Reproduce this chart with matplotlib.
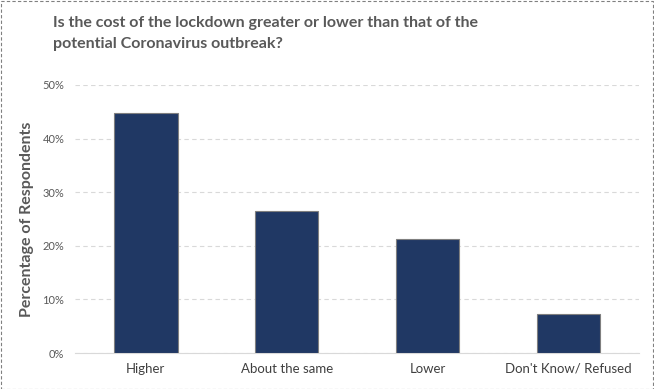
import matplotlib.pyplot as plt
from matplotlib.patches import Rectangle
from matplotlib.ticker import PercentFormatter

categories = ['Higher', 'About the same', 'Lower', "Don't Know/ Refused"]
values = [44.8, 26.5, 21.3, 7.3]
yticks = [0, 10, 20, 30, 40, 50]

plt.rcParams['font.family'] = ['Lato', 'DejaVu Sans']

fig = plt.figure(figsize=(6.54, 3.89), dpi=100)
ax = fig.add_axes([0.1154, 0.0925, 0.861, 0.689])

ax.bar(range(len(categories)), values, width=0.45, color='#203864',
       edgecolor='#7f7f7f', linewidth=0.8, zorder=3)

ax.set_xlim(-0.5, len(categories) - 0.5)
ax.set_ylim(0, 50)
ax.set_yticks(yticks)
ax.yaxis.set_major_formatter(PercentFormatter(decimals=0))
ax.set_xticks(range(len(categories)))
ax.set_xticklabels(categories, fontsize=9.5, color='#404040')
ax.tick_params(axis='y', labelsize=8, colors='#595959', length=0, pad=8)
ax.tick_params(axis='x', length=0, pad=7)

ax.grid(axis='y', color='#d9d9d9', linestyle=(0, (4, 3)), linewidth=0.8, zorder=0)
for s in ['top', 'right', 'left']:
    ax.spines[s].set_visible(False)
ax.spines['bottom'].set_color('#d9d9d9')

ax.set_ylabel('Percentage of Respondents', fontsize=11.5, fontweight='bold',
              color='#595959', labelpad=6)

fig.text(0.081, 0.96, 'Is the cost of the lockdown greater or lower than that of the\npotential Coronavirus outbreak?',
         fontsize=11.5, fontweight='bold', color='#595959', va='top', ha='left',
         linespacing=1.65)

fig.patches.append(Rectangle((0.001, 0.001), 0.997, 0.996, transform=fig.transFigure,
                             fill=False, edgecolor='#808080', linestyle=(0, (3, 2)),
                             linewidth=0.8))

fig.savefig('out.png', dpi=100)
